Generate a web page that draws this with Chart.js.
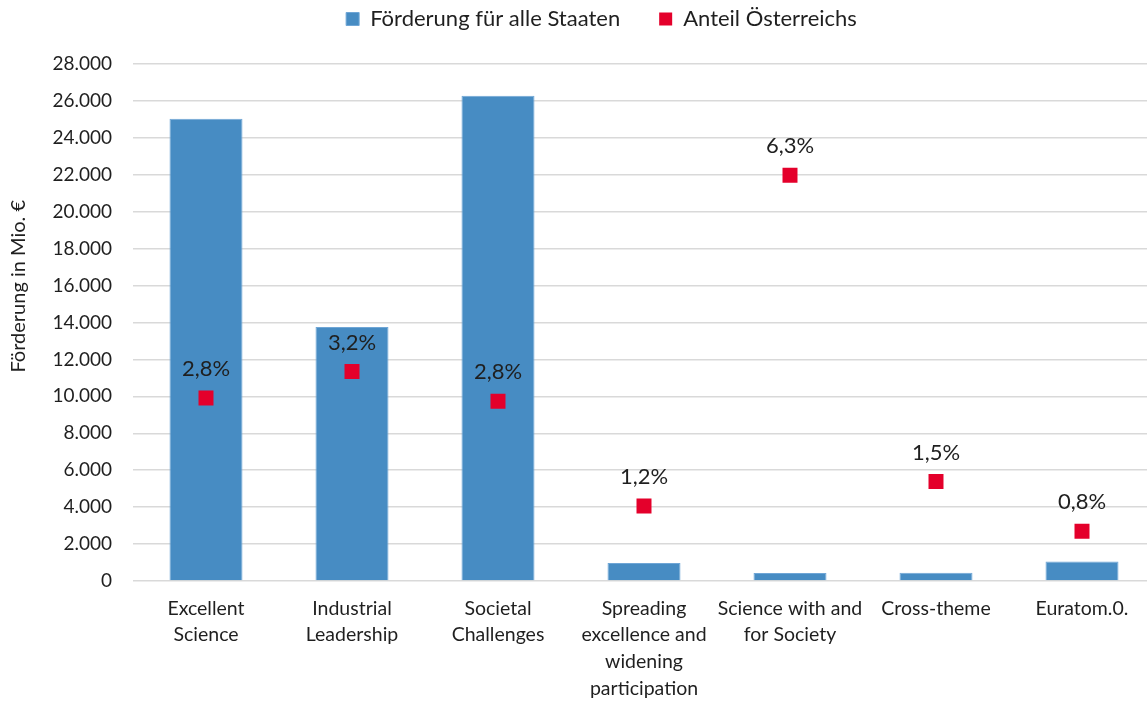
<!DOCTYPE html>
<html>
<head>
<meta charset="utf-8">
<title>Förderung Horizon 2020</title>
<script src="https://cdn.jsdelivr.net/npm/chart.js@4.4.1/dist/chart.umd.min.js"></script>
<style>
    html, body { margin: 0; padding: 0; background: #fff; overflow: hidden; }
    /* the plot runs a few pixels past the right edge, as in the original */
    #wrap { width: 1147px; height: 701px; overflow: hidden; position: relative; }
    #chart { position: absolute; left: 0; top: 0; }
</style>
</head>
<body>
<div id="wrap"><canvas id="chart" width="1156" height="701"></canvas></div>
<script>
// categories (wrapped like in the original)
const categories = [
    ['Excellent', 'Science'],
    ['Industrial', 'Leadership'],
    ['Societal', 'Challenges'],
    ['Spreading', 'excellence and', 'widening', 'participation'],
    ['Science with and', 'for Society'],
    ['Cross-theme'],
    ['Euratom.0.']
];

// Förderung für alle Staaten, Mio. €
const funding = [25030, 13750, 26280, 970, 440, 450, 1060];

// Anteil Österreichs in %
const austriaShare = [2.83, 3.24, 2.78, 1.16, 6.28, 1.54, 0.77];

const seriesNames = ['Förderung für alle Staaten', 'Anteil Österreichs'];
const yTitle = 'Förderung in Mio. €';

const blue = '#478CC3';
const red = '#E4002B';
const textColor = '#1f1f1f';
const fontFamily = 'Lato, "Open Sans", sans-serif';

Chart.defaults.font.family = fontFamily;
Chart.defaults.color = textColor;

function formatThousands(n) {
    return String(n).replace(/\B(?=(\d{3})+(?!\d))/g, '.');
}

function formatPercent(v) {
    return v.toFixed(1).replace('.', ',') + '%';
}

// percentage labels above the red squares
const pointLabels = {
    id: 'pointLabels',
    afterDatasetsDraw(chart) {
        const meta = chart.getDatasetMeta(1);
        const ctx = chart.ctx;
        ctx.save();
        ctx.font = '22px ' + fontFamily;
        ctx.fillStyle = textColor;
        ctx.textAlign = 'center';
        ctx.textBaseline = 'middle';
        meta.data.forEach((pt, i) => {
            ctx.fillText(formatPercent(austriaShare[i]), pt.x, pt.y - 29);
        });
        ctx.restore();
    }
};

// y axis title sits a little above the middle of the plot, like in Excel
const axisTitle = {
    id: 'axisTitle',
    afterDraw(chart) {
        const area = chart.chartArea;
        const ctx = chart.ctx;
        ctx.save();
        ctx.translate(19, area.top + (area.bottom - area.top) * 0.43);
        ctx.rotate(-Math.PI / 2);
        ctx.font = '20px ' + fontFamily;
        ctx.fillStyle = textColor;
        ctx.textAlign = 'center';
        ctx.textBaseline = 'middle';
        ctx.fillText(yTitle, 0, 0);
        ctx.restore();
    }
};

// legend sits higher and a bit to the right, chart area starts below it
const legendSpacing = {
    id: 'legendSpacing',
    beforeInit(chart) {
        const fit = chart.legend.fit;
        chart.legend.fit = function() {
            fit.call(this);
            this.height = 64;
        };
    },
    afterLayout(chart) {
        chart.legend.top = -31;
        chart.legend.left += 24;
        chart.legend.right += 24;
    }
};

new Chart(document.getElementById('chart'), {
    data: {
        labels: categories,
        datasets: [
            {
                type: 'bar',
                label: seriesNames[0],
                data: funding,
                backgroundColor: blue,
                borderColor: '#6FA6D6',
                borderWidth: 1,
                barPercentage: 0.5,
                categoryPercentage: 1.0,
                yAxisID: 'y',
                order: 1
            },
            {
                type: 'line',
                label: seriesNames[1],
                data: austriaShare,
                showLine: false,
                backgroundColor: red,
                borderColor: red,
                borderWidth: 0,
                pointStyle: 'rect',
                pointRadius: 10.6,
                pointHoverRadius: 10.6,
                pointBorderWidth: 0,
                pointBackgroundColor: red,
                yAxisID: 'y2',
                order: 0
            }
        ]
    },
    options: {
        responsive: false,
        animation: false,
        layout: {
            autoPadding: false, // the big squares would otherwise add space at the right
            padding: { left: 0, right: 1, top: 0, bottom: 0 }
        },
        plugins: {
            legend: {
                position: 'top',
                labels: {
                    boxWidth: 13,
                    boxHeight: 13,
                    padding: 39,
                    font: { size: 22 },
                    color: textColor,
                    sort: (a, b) => a.datasetIndex - b.datasetIndex
                }
            },
            tooltip: { enabled: false }
        },
        scales: {
            x: {
                grid: { display: false, drawTicks: false },
                border: { display: false },
                ticks: {
                    autoSkip: false,
                    maxRotation: 0,
                    padding: 14,
                    font: { size: 19.5, lineHeight: 1.37 },
                    color: textColor
                },
                afterFit(scale) {
                    scale.height = 120;
                    scale.paddingLeft = 0;
                    scale.paddingRight = 0;
                }
            },
            y: {
                position: 'left',
                min: 0,
                max: 28000,
                grid: { color: '#D9D9D9', lineWidth: 1.5, drawTicks: false },
                border: { display: false },
                ticks: {
                    stepSize: 2000,
                    padding: 21,
                    font: { size: 19 },
                    color: textColor,
                    callback: (v) => formatThousands(v)
                },
                afterFit(scale) { scale.width = 133; }
            },
            y2: {
                display: false,
                position: 'right',
                min: 0,
                max: 8,
                afterFit(scale) { scale.width = 0; }
            }
        }
    },
    plugins: [pointLabels, axisTitle, legendSpacing]
});
</script>
</body>
</html>
